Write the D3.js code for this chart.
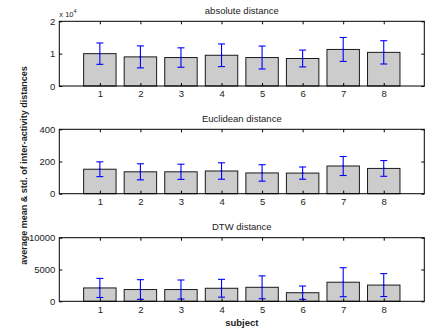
<!DOCTYPE html>
<html><head><meta charset="utf-8">
<script src="https://d3js.org/d3.v7.min.js"></script>
<style>body{margin:0;background:#fff}svg{display:block}text{font-family:"Liberation Sans",Arial,sans-serif}</style>
</head><body><svg id="c" width="431" height="330"></svg>
<script>
const subjects = [1,2,3,4,5,6,7,8];
const absMean = [1.00, 0.90, 0.88, 0.95, 0.88, 0.85, 1.13, 1.04];
const absStd  = [0.33, 0.34, 0.30, 0.35, 0.355, 0.26, 0.37, 0.36];
const eucMean = [152, 136, 136, 141, 129, 128, 172, 157];
const eucStd  = [46, 50, 47, 51, 51, 38, 59, 49];
const dtwMean = [2100, 1850, 1850, 2050, 2200, 1350, 3000, 2550];
const dtwStd  = [1500, 1550, 1500, 1400, 1800, 1050, 2280, 1800];
const panelTitles = ["absolute distance", "Euclidean distance", "DTW distance"];
const yMax = [2, 400, 10000];
const yTicks = [[0,1,2],[0,200,400],[0,5000,10000]];
const yLabel = "average mean & std. of inter-activity distances";
const xLabel = "subject";

const svg = d3.select("#c");
const L = 59.3, R = 424.3;
const panels = [[21.3,86],[129.3,193.7],[237.7,301.3]];
const means = [absMean, eucMean, dtwMean];
const stds = [absStd, eucStd, dtwStd];
const x = d3.scaleLinear().domain([0,9]).range([L,R]);
const bw = (x(1)-x(0))*0.8;
const fs = 9.5;

panels.forEach((p,i)=>{
  const y = d3.scaleLinear().domain([0,yMax[i]]).range([p[1],p[0]]);
  const g = svg.append("g");
  g.selectAll("rect.b").data(subjects).enter().append("rect")
    .attr("x", d=>x(d)-bw/2).attr("width", bw)
    .attr("y", (d,j)=>y(means[i][j])).attr("height",(d,j)=>y(0)-y(means[i][j]))
    .attr("fill","#cccccc").attr("stroke","#1a1a1a").attr("stroke-width",1);
  const cw = 3.5;
  subjects.forEach((d,j)=>{
    const m = means[i][j], s = stds[i][j];
    const xc = x(d), y1 = y(m+s), y2 = y(m-s);
    const e = g.append("g").attr("stroke","#0000ff").attr("stroke-width",1.1);
    e.append("line").attr("x1",xc).attr("x2",xc).attr("y1",y1).attr("y2",y2);
    e.append("line").attr("x1",xc-cw).attr("x2",xc+cw).attr("y1",y1).attr("y2",y1);
    e.append("line").attr("x1",xc-cw).attr("x2",xc+cw).attr("y1",y2).attr("y2",y2);
    e.append("line").attr("x1",xc-1).attr("x2",xc+1).attr("y1",y(m)).attr("y2",y(m));
  });
  g.append("rect").attr("x",L).attr("y",p[0]).attr("width",R-L).attr("height",p[1]-p[0])
    .attr("fill","none").attr("stroke","#000").attr("stroke-width",1);
  const ax = d3.axisBottom(x).tickValues(subjects).tickSizeInner(-3).tickSizeOuter(0).tickPadding(4.6);
  const gx = g.append("g").attr("transform",`translate(0,${p[1]})`).call(ax);
  const axT = d3.axisTop(x).tickValues(subjects).tickSizeInner(-3).tickSizeOuter(0).tickFormat("");
  const gxt = g.append("g").attr("transform",`translate(0,${p[0]})`).call(axT);
  const ay = d3.axisLeft(y).tickValues(yTicks[i]).tickSizeInner(-3).tickSizeOuter(0).tickPadding(4)
    .tickFormat(d3.format("d"));
  const gy = g.append("g").attr("transform",`translate(${L},0)`).call(ay);
  const ayR = d3.axisRight(y).tickValues(yTicks[i]).tickSizeInner(-3).tickSizeOuter(0).tickFormat("");
  const gyr = g.append("g").attr("transform",`translate(${R},0)`).call(ayR);
  [gx,gxt,gy,gyr].forEach(a=>{
    a.select(".domain").remove();
    a.selectAll("text").attr("font-size",fs).attr("fill","#222").style("font-family",'"Liberation Sans",Arial,sans-serif');
  });
  g.append("text").attr("x",(L+R)/2).attr("y",p[0]-7.8).attr("text-anchor","middle")
    .attr("font-size",fs).attr("fill","#222").text(panelTitles[i]);
});

const ex = svg.append("text").attr("x",L).attr("y",16.5).attr("font-size",7.5).attr("fill","#222");
ex.append("tspan").text("x 10");
ex.append("tspan").attr("dy",-4).attr("font-size",5.5).text("4");

svg.append("text").attr("transform","translate(27.3,165.5) rotate(-90)").attr("text-anchor","middle")
  .attr("font-size",9).attr("font-weight","bold").attr("fill","#222").text(yLabel);
svg.append("text").attr("x",(L+R)/2).attr("y",326).attr("text-anchor","middle")
  .attr("font-size",9.5).attr("font-weight","bold").attr("fill","#222").text(xLabel);
</script></body></html>
